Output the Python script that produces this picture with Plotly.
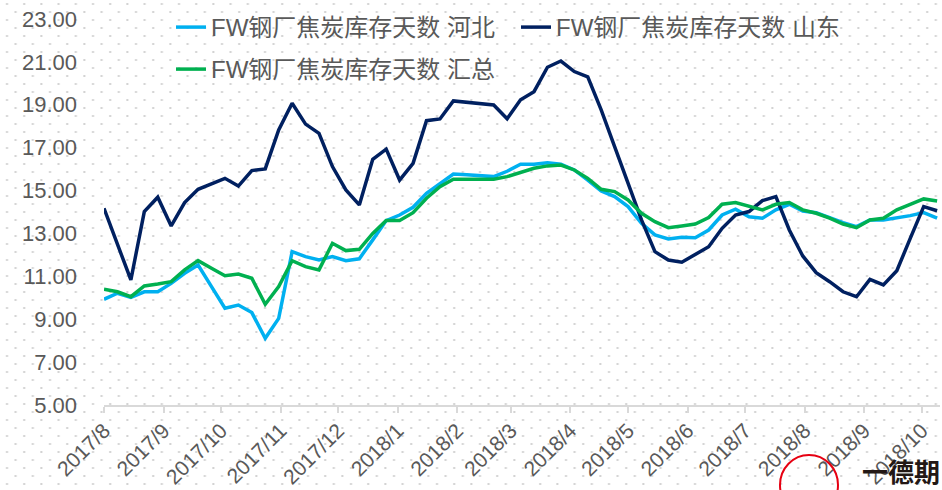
import base64
import pandas as pd
import plotly.graph_objects as go

# weekly observation dates (63 weeks starting 2017-08-01)
dates = pd.date_range("2017-08-01", periods=63, freq="7D")

hebei = [9.93, 10.21, 10.02, 10.28, 10.28, 10.67, 11.14, 11.53, 10.52, 9.51,
         9.66, 9.31, 8.11, 9.04, 12.15, 11.92, 11.76, 11.92, 11.73, 11.82,
         12.70, 13.60, 13.86, 14.22, 14.87, 15.34, 15.77, 15.74, 15.70, 15.65,
         15.90, 16.23, 16.23, 16.30, 16.23, 15.96, 15.49, 14.98, 14.72, 14.25,
         13.47, 12.93, 12.74, 12.82, 12.80, 13.16, 13.86, 14.13, 13.78, 13.71,
         14.10, 14.36, 14.05, 13.97, 13.74, 13.50, 13.32, 13.63, 13.63, 13.71,
         13.83, 13.97, 13.71]

shandong = [14.17, 12.51, 10.83, 14.02, 14.69, 13.35, 14.44, 15.06, 15.31, 15.57,
            15.21, 15.93, 16.01, 17.83, 19.07, 18.10, 17.67, 16.12, 15.03, 14.33,
            16.46, 16.93, 15.49, 16.27, 18.26, 18.34, 19.18, 19.12, 19.07, 18.99,
            18.35, 19.23, 19.61, 20.75, 21.04, 20.55, 20.30, 18.76, 17.05, 15.34,
            13.63, 12.15, 11.76, 11.66, 12.00, 12.38, 13.24, 13.86, 14.02, 14.53,
            14.72, 13.16, 11.95, 11.17, 10.75, 10.28, 10.05, 10.86, 10.60, 11.26,
            12.77, 14.25, 14.06]

total = [10.40, 10.28, 10.05, 10.55, 10.64, 10.75, 11.30, 11.73, 11.38, 11.03,
         11.11, 10.91, 9.70, 10.52, 11.73, 11.45, 11.30, 12.54, 12.20, 12.26,
         13.00, 13.60, 13.60, 13.97, 14.64, 15.18, 15.53, 15.53, 15.53, 15.53,
         15.65, 15.84, 16.04, 16.15, 16.19, 15.96, 15.57, 15.06, 14.95, 14.56,
         13.94, 13.55, 13.27, 13.35, 13.44, 13.74, 14.36, 14.44, 14.25, 14.10,
         14.36, 14.44, 14.10, 13.94, 13.71, 13.44, 13.27, 13.63, 13.71, 14.10,
         14.36, 14.61, 14.51]

names = ["FW钢厂焦炭库存天数 河北", "FW钢厂焦炭库存天数 山东", "FW钢厂焦炭库存天数 汇总"]
colors = ["#00B0F0", "#002060", "#00B050"]

W, H = 942, 490
L, R, T, B = 104, 2, 19, 85
pw, ph = W - L - R, H - T - B

FONT = "Arial, 'Liberation Sans', 'Noto Sans CJK SC', sans-serif"
GREY = "#595959"

fig = go.Figure()
fig.add_trace(go.Scatter(x=dates, y=hebei, name=names[0], mode="lines",
                         line=dict(color=colors[0], width=3.5), legend="legend"))
fig.add_trace(go.Scatter(x=dates, y=shandong, name=names[1], mode="lines",
                         line=dict(color=colors[1], width=3.5), legend="legend"))
fig.add_trace(go.Scatter(x=dates, y=total, name=names[2], mode="lines",
                         line=dict(color=colors[2], width=3.5), legend="legend2"))

# dotted background pattern
svg = (f'<svg xmlns="http://www.w3.org/2000/svg" width="{W}" height="{H}">'
       '<defs><pattern id="p" x="0" y="0" width="17.2" height="16" patternUnits="userSpaceOnUse">'
       '<rect x="6" y="3" width="2" height="2" fill="#d2d2d2"/>'
       '<rect x="14.6" y="11" width="2" height="2" fill="#d2d2d2"/>'
       '</pattern></defs>'
       f'<rect width="{W}" height="{H}" fill="url(#p)"/></svg>')
src = "data:image/svg+xml;base64," + base64.b64encode(svg.encode()).decode()

fig.update_layout(
    width=W, height=H,
    margin=dict(l=L, r=R, t=T, b=B, pad=0, autoexpand=False),
    paper_bgcolor="white",
    plot_bgcolor="rgba(0,0,0,0)",
    font=dict(family=FONT, color=GREY),
    images=[dict(source=src, xref="paper", yref="paper",
                 x=-L / pw, y=1 + T / ph, sizex=W / pw, sizey=H / ph,
                 xanchor="left", yanchor="top", sizing="stretch", layer="below")],
    legend=dict(orientation="h", xref="container", yref="container",
                x=171 / W, xanchor="left", y=1 - 5 / H, yanchor="top",
                font=dict(size=24, color=GREY, family=FONT),
                bgcolor="rgba(0,0,0,0)", entrywidth=300, entrywidthmode="pixels",
                itemclick=False),
    legend2=dict(orientation="h", xref="container", yref="container",
                 x=171 / W, xanchor="left", y=1 - 47 / H, yanchor="top",
                 font=dict(size=24, color=GREY, family=FONT),
                 bgcolor="rgba(0,0,0,0)", itemclick=False),
    showlegend=True,
)

fig.update_xaxes(
    type="date", automargin=False,
    range=["2017-08-01", "2018-10-10 12:00"],
    tick0="2017-08-01", dtick="M1", tickformat="%Y/%-m",
    tickangle=-45,
    tickfont=dict(size=21, color=GREY, family=FONT),
    ticklabelstandoff=-3,
    showgrid=False, zeroline=False,
    showline=True, linecolor="#d9d9d9", linewidth=2,
    ticks="outside", ticklen=6, tickwidth=1.5, tickcolor="#d9d9d9",
)
fig.update_yaxes(
    automargin=False,
    range=[5, 23], tickvals=list(range(5, 24, 2)), tickformat=".2f",
    tickfont=dict(size=22, color=GREY, family=FONT),
    showgrid=False, zeroline=False, showline=False, ticks="",
    ticklabelstandoff=26,
)

# logo remnant at the bottom-right corner
fig.add_shape(type="circle", xref="paper", yref="paper",
              x0=(780 - L) / pw, x1=(838 - L) / pw,
              y0=(H - B - 515) / ph, y1=(H - B - 455) / ph,
              line=dict(color="#e60012", width=2))
fig.add_annotation(text="<b>一德期</b>", xref="paper", yref="paper",
                   x=(941 - L) / pw, y=(H - B - H) / ph, xanchor="right", yanchor="bottom",
                   showarrow=False, borderpad=0,
                   font=dict(size=26, color="#231815",
                             family="'Noto Sans CJK SC', sans-serif"))

fig.write_html("out.html", config={"displayModeBar": False},
               post_script="document.body.style.margin='0';document.body.style.overflow='hidden';")
